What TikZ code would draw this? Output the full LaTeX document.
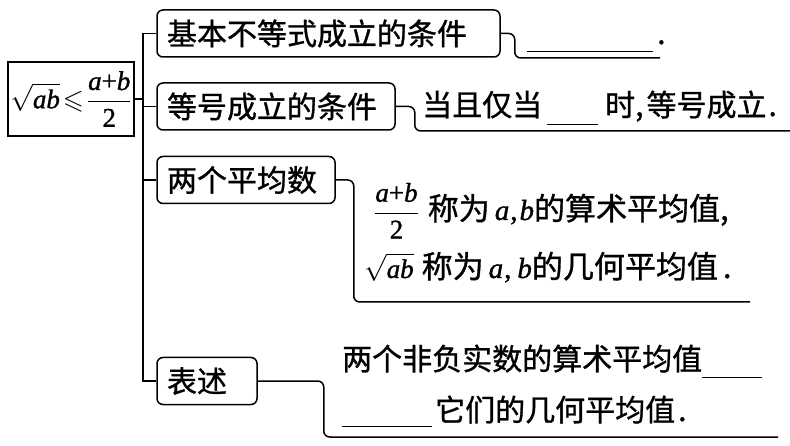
\documentclass[tikz,border=0pt]{standalone}
\usepackage{amsmath,amssymb}
\usepackage{mathptmx}
\usepackage{fontspec}
\setmainfont{Noto Sans CJK SC}[FakeBold=1]
\newfontface\tmsit{Liberation Serif Italic}[FakeBold=1.2]
\newfontface\tmsup{Liberation Serif}[FakeBold=1.2]
\newcommand{\mi}[1]{\text{\tmsit #1}}
\newcommand{\mn}[1]{\text{\tmsup #1}}
\newcommand{\blankrule}[2]{\rule[#2]{#1}{1.4pt}}
\tikzset{
  box/.style={draw, line width=1.5pt, rounded corners=6pt, inner xsep=10pt, inner ysep=0pt,
    minimum height=47pt, align=left, font=\fontsize{30}{36}\selectfont},
  mainbox/.style={draw, line width=1.5pt, minimum width=126pt, minimum height=74pt, inner sep=0pt},
  conn/.style={line width=1.5pt, rounded corners=6pt},
  trunk/.style={line width=1.5pt},
  txt/.style={anchor=base west, inner sep=0pt, font=\fontsize{30}{36}\selectfont},
  txts/.style={anchor=base west, inner sep=0pt, font=\fontsize{31}{36}\selectfont},
}
\begin{document}
\begin{tikzpicture}[x=1pt,y=-1pt]
\useasboundingbox (0,0) rectangle (790,446);
% root
\node[mainbox] (root) at (71,99) {\fontsize{27}{30}\selectfont$\sqrt{\mi{ab}}\!\leqslant\!\dfrac{\mi{a}\mn{+}\mi{b}}{\mn{2}}$};
% branch boxes
\node[box, text width=323pt] (b1) at (328.5,33.5) {基本不等式成立的条件};
\node[box, text width=218pt] (b2) at (276,106.5) {等号成立的条件};
\node[box, text width=158pt] (b3) at (246,180) {两个平均数};
\node[box, text width=80pt] (b4) at (207,381) {表述};
% trunk
\coordinate (tr) at (143,0);
\draw[trunk] (b1.west) -| (tr |- b4.west) -- (b4.west);
\draw[trunk] (b2.west) -- (b2.west -| tr);
\draw[trunk] (b3.west) -- (b3.west -| tr);
\draw[trunk] (root.east) -- (root.east -| tr);
% brackets
\coordinate (e1) at (660,58);
\coordinate (e2) at (790,131);
\coordinate (e3) at (750,302);
\coordinate (e4) at (778,437);
\draw[conn] (b1.east) -- ++(14,0) |- (e1);
\draw[conn] (b2.east) -- ++(19,0) |- (e2);
\draw[conn] (b3.east) -- ++(18,0) |- (e3);
\draw[conn] (b4.east) -- ++(66,0) |- (e4);
% texts
\node[txt] (t1) at (527,44) {\blankrule{126pt}{-8pt}\kern4pt.};
\node[txt] (t2) at (422,116) {当且仅当\kern5pt\blankrule{51pt}{-9pt}\kern7pt 时,\kern3pt 等号成立\kern2pt.};
\node[txts] (t3) at (374,220) {{\fontsize{27}{32}\selectfont$\dfrac{\mi{a}\mn{+}\mi{b}}{\mn{2}}$}\kern9pt 称为\kern5pt{\fontsize{29}{32}\selectfont\mi{a}\kern1pt\mn{,}\kern2pt\mi{b}}的算术平均值,};
\node[txts] (t4) at (364,278) {{\fontsize{27}{32}\selectfont$\sqrt{\mi{ab}}$}\kern8pt 称为\kern5pt{\fontsize{29}{32}\selectfont\mi{a}\kern1pt\mn{,}\kern6pt\mi{b}}的几何平均值\kern5pt.};
\node[txt] (t5) at (342,370) {两个非负实数的算术平均值\blankrule{60pt}{-8pt}};
\node[txt] (t6) at (342,421) {\blankrule{90pt}{-6pt}\kern3pt 它们的几何平均值\kern3pt.};
\end{tikzpicture}
\end{document}
